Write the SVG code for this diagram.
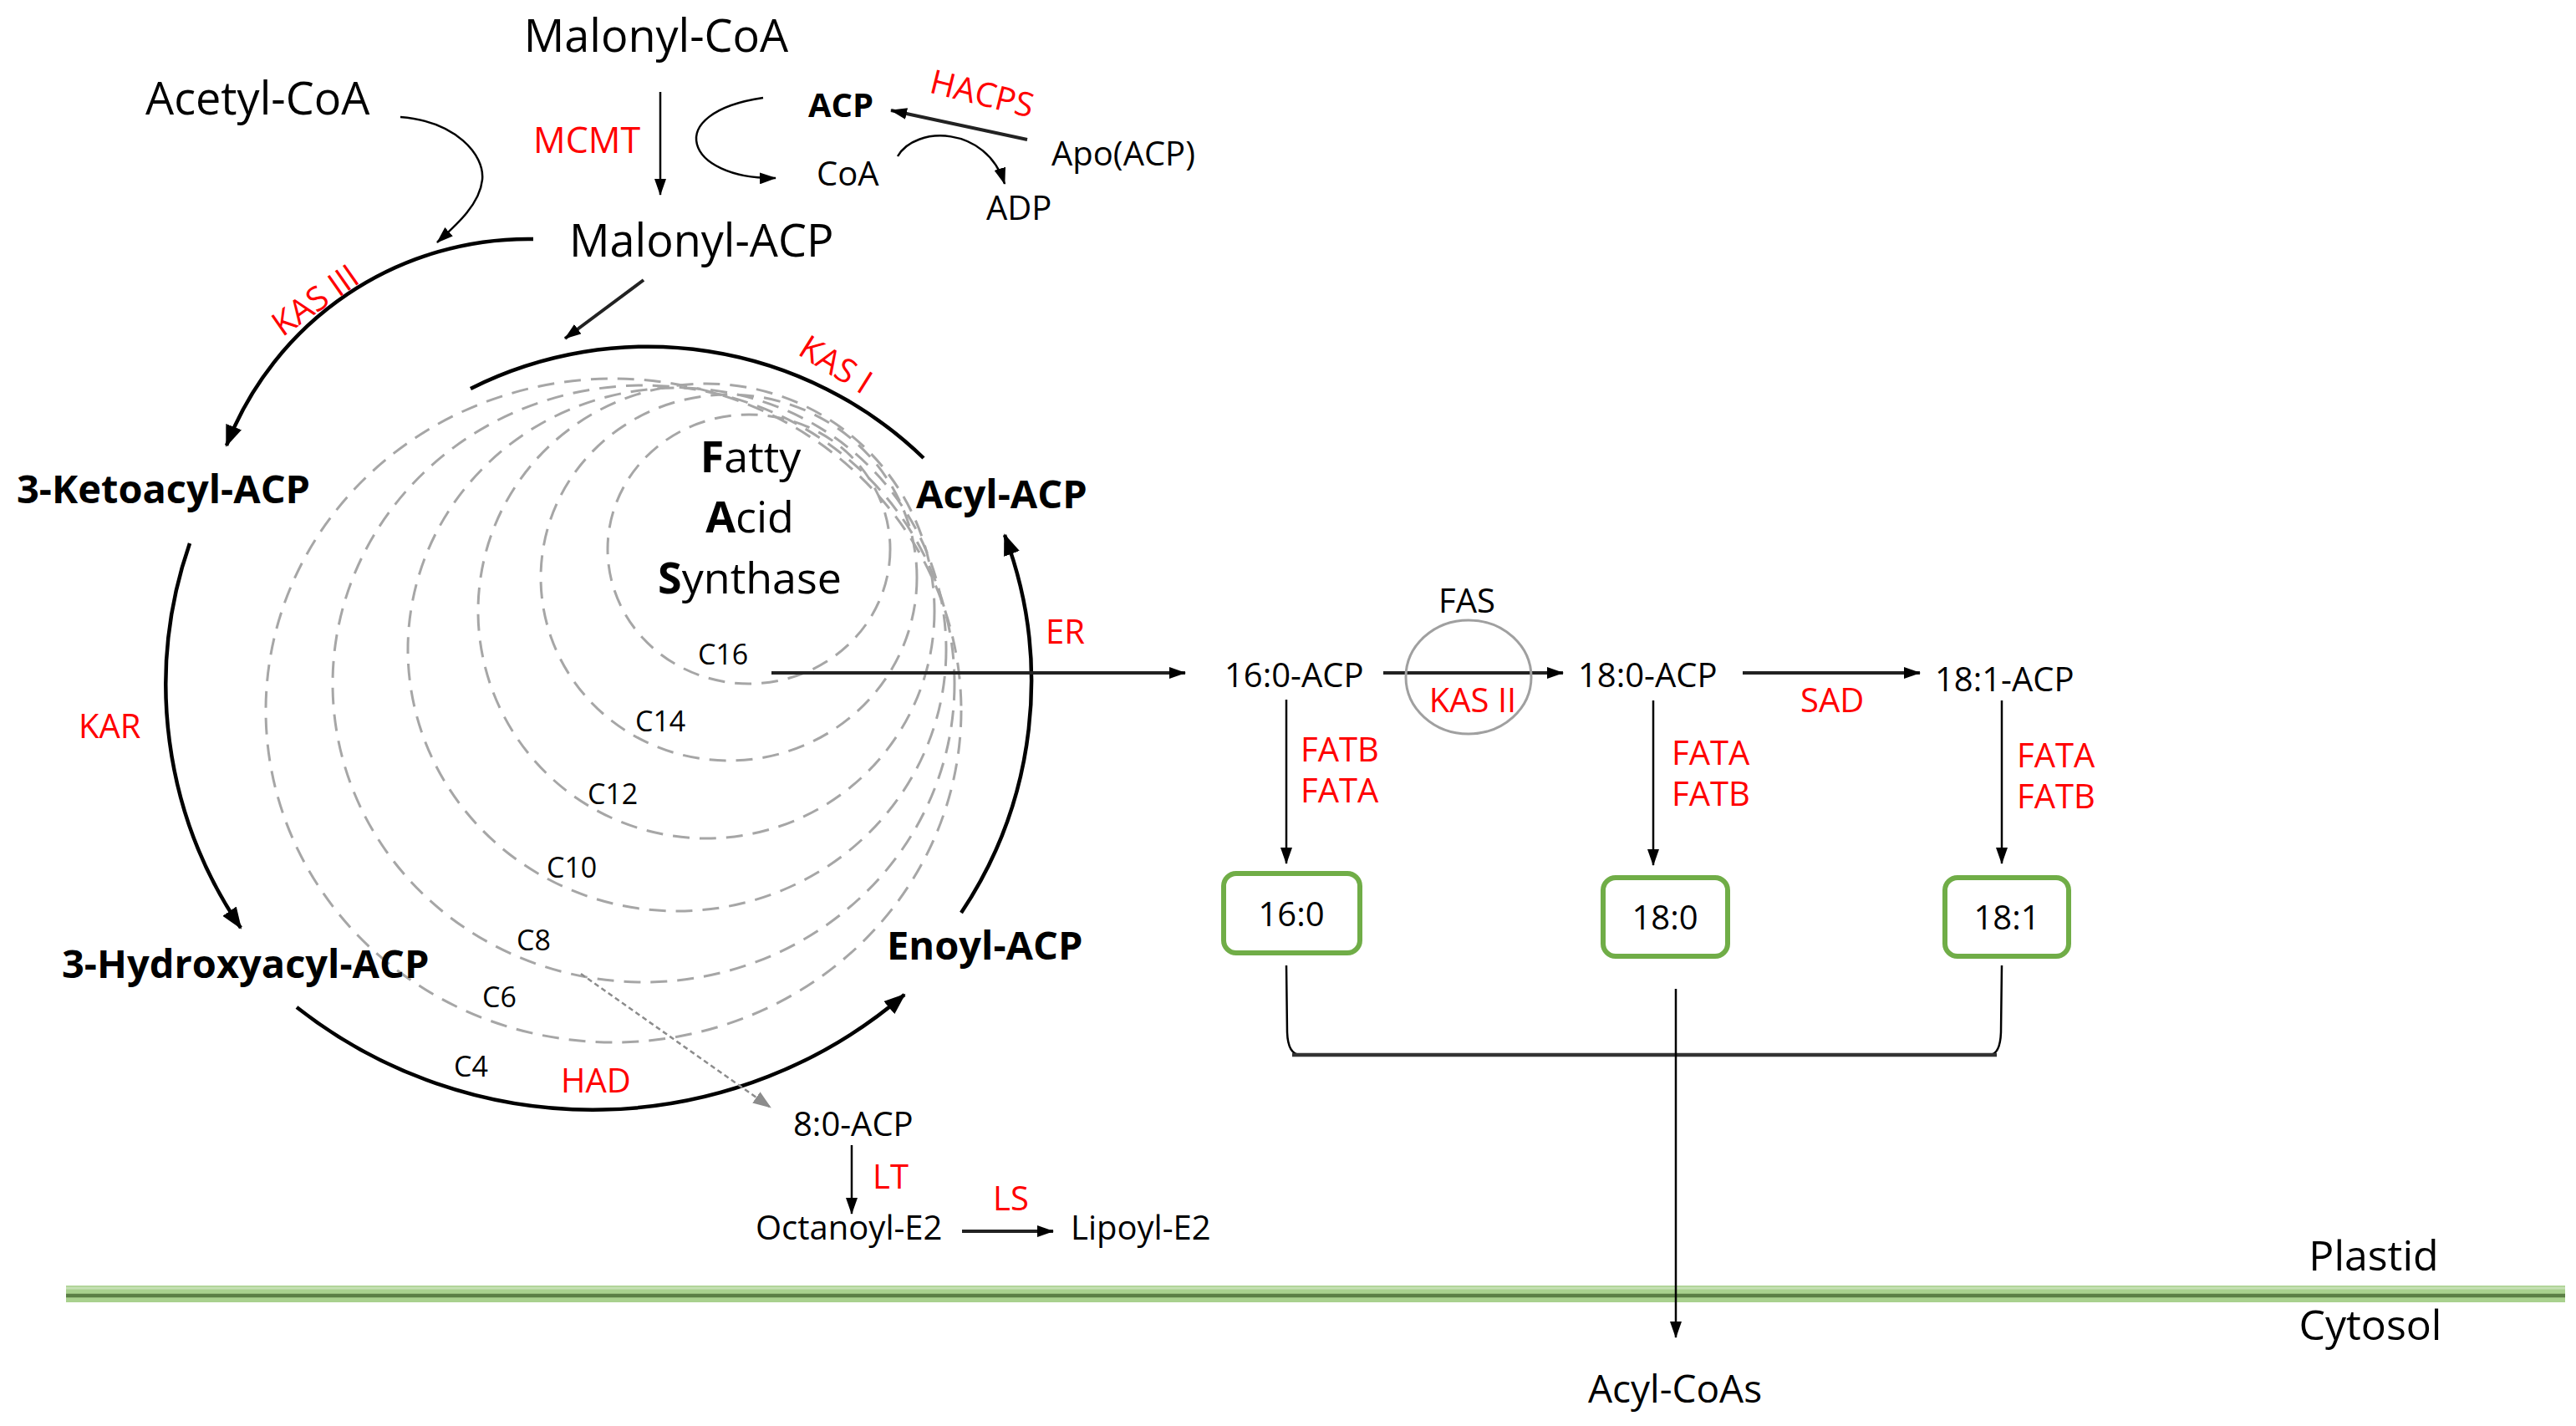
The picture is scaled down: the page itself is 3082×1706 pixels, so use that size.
<svg xmlns="http://www.w3.org/2000/svg" width="3082" height="1706" viewBox="0 0 3082 1706">
<defs>
<style>
text{font-family:"Open Sans","Noto Sans","Liberation Sans",sans-serif;fill:#000}
.big{font-size:54px}
.bold{font-size:47px;font-weight:bold}
.sm{font-size:40px}
.cl{font-size:34px}
.red{fill:#ff0000}
.fas{font-size:52px}
.arc{fill:none;stroke:#000;stroke-width:4.5}
.thin{fill:none;stroke:#000;stroke-width:2.5}
.mid{fill:none;stroke:#222;stroke-width:4}
.dash{fill:none;stroke:#a6a6a6;stroke-width:3;stroke-dasharray:20 12}
.box{fill:#fff;stroke:#70ad47;stroke-width:6}
</style>
<marker id="ah" viewBox="0 0 20 14" refX="19" refY="7" markerWidth="20" markerHeight="14" markerUnits="userSpaceOnUse" orient="auto"><path d="M0,0 L20,7 L0,14 z" fill="#000"/></marker>
<marker id="ahL" viewBox="0 0 26 20" refX="24" refY="10" markerWidth="26" markerHeight="20" markerUnits="userSpaceOnUse" orient="auto"><path d="M0,0 L26,10 L0,20 z" fill="#000"/></marker>
<marker id="ahG" viewBox="0 0 22 16" refX="21" refY="8" markerWidth="22" markerHeight="16" markerUnits="userSpaceOnUse" orient="auto"><path d="M0,0 L22,8 L0,16 z" fill="#8c8c8c"/></marker>
</defs>
<rect width="3082" height="1706" fill="#fff"/>

<g id="membrane">
<rect x="79" y="1538" width="2990" height="20" fill="#a9d18e"/>
<line x1="79" y1="1541" x2="3069" y2="1541" stroke="#c5e0b4" stroke-width="3"/>
<line x1="79" y1="1550" x2="3069" y2="1550" stroke="#5b7f45" stroke-width="4.5"/>
</g>

<g id="fas-loops">
<ellipse class="dash" cx="734" cy="850" rx="416" ry="397"/>
<ellipse class="dash" cx="770" cy="818" rx="372" ry="357"/>
<ellipse class="dash" cx="810" cy="777" rx="322" ry="313"/>
<ellipse class="dash" cx="845" cy="731" rx="273" ry="272"/>
<ellipse class="dash" cx="872" cy="691" rx="225" ry="219"/>
<ellipse class="dash" cx="896" cy="657" rx="169" ry="161"/>
</g>

<g id="connectors">
<line class="thin" x1="790" y1="110" x2="790" y2="233" marker-end="url(#ah)"/>
<path class="thin" d="M913 117 C790 135 820 215 928 213" marker-end="url(#ah)"/>
<line class="mid" x1="1229" y1="167" x2="1066" y2="132" marker-end="url(#ah)"/>
<path class="thin" d="M1074 187 C1095 150 1180 150 1202 220" marker-end="url(#ah)"/>
<path class="thin" d="M479 140 C545 145 580 185 577 215 C574 245 545 270 523 290" marker-end="url(#ah)"/>
<line class="mid" x1="770" y1="335" x2="676" y2="405" marker-end="url(#ah)"/>
<path class="arc" d="M638 286 A387 387 0 0 0 271 533" marker-end="url(#ahL)"/>
<path class="arc" d="M1105 548 A474 474 0 0 0 563 465"/>
<path class="arc" d="M227 650 A516 516 0 0 0 288 1110" marker-end="url(#ahL)"/>
<path class="arc" d="M355 1205 A573 573 0 0 0 1082 1190" marker-end="url(#ahL)"/>
<path class="arc" d="M1150 1092 A497 497 0 0 0 1202 640" marker-end="url(#ahL)"/>
<line class="mid" x1="923" y1="805" x2="1418" y2="805" marker-end="url(#ah)"/>
<line x1="695" y1="1165" x2="922" y2="1325" stroke="#8c8c8c" stroke-width="2.5" stroke-dasharray="6 4" marker-end="url(#ahG)"/>
<line class="thin" x1="1019" y1="1370" x2="1019" y2="1452" marker-end="url(#ah)"/>
<line class="mid" x1="1151" y1="1473" x2="1260" y2="1473" marker-end="url(#ah)"/>
<line class="mid" x1="1655" y1="805" x2="1870" y2="805" marker-end="url(#ah)"/>
<line class="mid" x1="2085" y1="805" x2="2297" y2="805" marker-end="url(#ah)"/>
<line class="thin" x1="1539" y1="837" x2="1539" y2="1033" marker-end="url(#ah)"/>
<line class="thin" x1="1978" y1="838" x2="1978" y2="1035" marker-end="url(#ah)"/>
<line class="thin" x1="2395" y1="838" x2="2395" y2="1033" marker-end="url(#ah)"/>
<path class="thin" d="M1539 1155 L1540 1235 Q1541 1262 1556 1262 M2380 1262 Q2393 1262 2394 1235 L2395 1155"/>
<line x1="1546" y1="1262" x2="2389" y2="1262" stroke="#333" stroke-width="4.5"/>
<line class="thin" x1="2005" y1="1183" x2="2005" y2="1600" marker-end="url(#ah)"/>
</g>

<g id="fas-ellipse"><ellipse cx="1757" cy="810" rx="75" ry="68" fill="none" stroke="#a0a0a0" stroke-width="3"/></g>

<g id="n-malonyl-coa"><text class="big" x="785" y="62" text-anchor="middle">Malonyl-CoA</text></g>
<g id="n-acetyl-coa"><text class="big" x="174" y="137">Acetyl-CoA</text></g>
<g id="l-mcmt"><text class="sm red" x="638" y="183" style="font-size:43px">MCMT</text></g>
<g id="n-acp"><text class="sm" x="967" y="140" font-weight="bold">ACP</text></g>
<g id="n-coa"><text class="sm" x="977" y="222">CoA</text></g>
<g id="l-hacps"><text class="sm red" transform="translate(1175,112) rotate(14)" x="0" y="14" text-anchor="middle">HACPS</text></g>
<g id="n-apo"><text class="sm" x="1258" y="198">Apo(ACP)</text></g>
<g id="n-adp"><text class="sm" x="1180" y="263">ADP</text></g>
<g id="n-malonyl-acp"><text class="big" x="681" y="307">Malonyl-ACP</text></g>
<g id="l-kas3"><text class="sm red" transform="translate(377,359) rotate(-35)" x="0" y="14" text-anchor="middle">KAS III</text></g>
<g id="l-kas1"><text class="sm red" transform="translate(1000,436) rotate(32)" x="0" y="14" text-anchor="middle">KAS I</text></g>
<g id="n-ketoacyl"><text class="bold" x="20" y="602">3-Ketoacyl-ACP</text></g>
<g id="n-acyl"><text class="bold" x="1096" y="608">Acyl-ACP</text></g>
<g id="n-hydroxyacyl"><text class="bold" x="74" y="1170">3-Hydroxyacyl-ACP</text></g>
<g id="n-enoyl"><text class="bold" x="1061" y="1148">Enoyl-ACP</text></g>
<g id="l-kar"><text class="sm red" x="94" y="883">KAR</text></g>
<g id="l-er"><text class="sm red" x="1251" y="770">ER</text></g>
<g id="l-had"><text class="sm red" x="671" y="1307">HAD</text></g>
<g id="n-fas">
<text class="fas" x="898" y="565" text-anchor="middle"><tspan font-weight="bold">F</tspan>atty</text>
<text class="fas" x="897" y="637" text-anchor="middle"><tspan font-weight="bold">A</tspan>cid</text>
<text class="fas" x="897" y="710" text-anchor="middle"><tspan font-weight="bold">S</tspan>ynthase</text>
</g>
<g id="c-labels">
<text class="cl" x="835" y="795">C16</text>
<text class="cl" x="760" y="875">C14</text>
<text class="cl" x="703" y="962">C12</text>
<text class="cl" x="654" y="1050">C10</text>
<text class="cl" x="618" y="1137">C8</text>
<text class="cl" x="577" y="1205">C6</text>
<text class="cl" x="543" y="1288">C4</text>
</g>
<g id="n-8acp"><text class="sm" x="949" y="1359">8:0-ACP</text></g>
<g id="l-lt"><text class="sm red" x="1044" y="1422">LT</text></g>
<g id="n-octanoyl"><text class="sm" x="904" y="1483">Octanoyl-E2</text></g>
<g id="l-ls"><text class="sm red" x="1188" y="1448">LS</text></g>
<g id="n-lipoyl"><text class="sm" x="1281" y="1483">Lipoyl-E2</text></g>

<g id="n-16acp"><text class="sm" x="1465" y="822">16:0-ACP</text></g>
<g id="l-fas"><text class="sm" x="1755" y="733" text-anchor="middle">FAS</text></g>
<g id="l-kas2"><text class="sm red" x="1762" y="852" text-anchor="middle">KAS II</text></g>
<g id="n-18acp"><text class="sm" x="1888" y="822">18:0-ACP</text></g>
<g id="l-sad"><text class="sm red" x="2154" y="852">SAD</text></g>
<g id="n-181acp"><text class="sm" x="2315" y="827">18:1-ACP</text></g>
<g id="l-fat16"><text class="sm red" x="1556" y="911">FATB</text><text class="sm red" x="1556" y="960">FATA</text></g>
<g id="l-fat18"><text class="sm red" x="2000" y="915">FATA</text><text class="sm red" x="2000" y="964">FATB</text></g>
<g id="l-fat181"><text class="sm red" x="2413" y="918">FATA</text><text class="sm red" x="2413" y="967">FATB</text></g>

<g id="n-16"><rect class="box" x="1464" y="1045" width="163" height="95" rx="15"/><text class="sm" x="1545" y="1108" text-anchor="middle">16:0</text></g>
<g id="n-18"><rect class="box" x="1918" y="1050" width="149" height="94" rx="15"/><text class="sm" x="1992" y="1112" text-anchor="middle">18:0</text></g>
<g id="n-181"><rect class="box" x="2327" y="1050" width="148" height="94" rx="15"/><text class="sm" x="2401" y="1112" text-anchor="middle">18:1</text></g>

<g id="n-acylcoas"><text class="sm" x="2004" y="1678" text-anchor="middle" style="font-size:46px">Acyl-CoAs</text></g>
<g id="l-plastid"><text class="big" x="2840" y="1520" text-anchor="middle" style="font-size:50px">Plastid</text></g>
<g id="l-cytosol"><text class="big" x="2836" y="1603" text-anchor="middle" style="font-size:50px">Cytosol</text></g>
</svg>
